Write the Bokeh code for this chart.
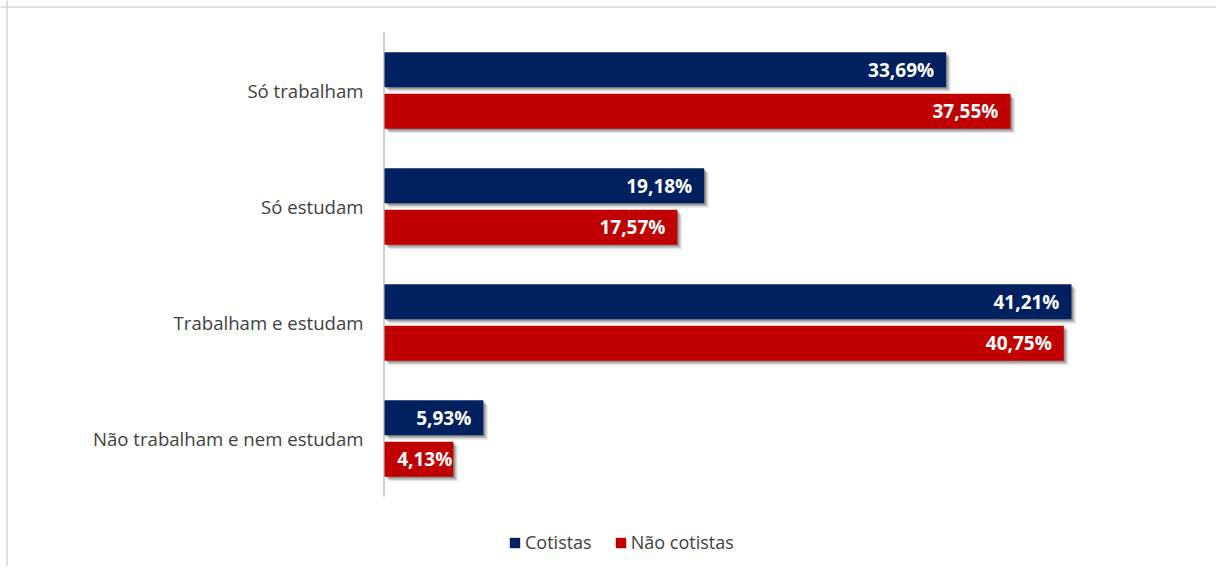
from bokeh.plotting import figure
from bokeh.models import Range1d, ColumnDataSource, Legend, LegendItem, Span
from bokeh.core.properties import value
from bokeh.embed import file_html
from bokeh.resources import INLINE

# ---- data ----
categories = ["Só trabalham", "Só estudam", "Trabalham e estudam", "Não trabalham e nem estudam"]
series_names = ["Cotistas", "Não cotistas"]
cotistas = [33.69, 19.18, 41.21, 5.93]
nao_cotistas = [37.55, 17.57, 40.75, 4.13]
series_colors = ["#002060", "#C00000"]

# ---- layout constants (pixels) ----
W, H = 1216, 566
PX_PER_PCT = 16.67      # horizontal scale
X0_PX = 384             # canvas pixel where 0% sits
GROUP_PX = 116          # vertical distance between categories
Y0_PX = 90              # canvas pixel of first category centre
BAR_PX = 35
OFFSET_PX = 20.75

dx = 1.0 / PX_PER_PCT
dy = 1.0 / GROUP_PX
x_start = -X0_PX * dx
x_end = (W - X0_PX) * dx
y_top = -Y0_PX * dy
y_bottom = (H - Y0_PX) * dy

p = figure(width=W, height=H, x_range=Range1d(x_start, x_end),
           y_range=Range1d(y_bottom, y_top), x_axis_type=None, y_axis_type=None,
           output_backend="svg", toolbar_location=None, min_border=0)
p.grid.visible = False
p.outline_line_color = None
p.background_fill_color = "white"
p.border_fill_color = "white"

# border (top & left)
p.add_layout(Span(location=x_start + 6.5 * dx, dimension="height", line_color="#d4d4d4", line_width=1.5))
p.add_layout(Span(location=y_top + 6.5 * dy, dimension="width", line_color="#d4d4d4", line_width=1.5))

# axis line
p.segment(x0=[-0.5 * dx], y0=[-0.5], x1=[-0.5 * dx], y1=[len(categories) - 0.5],
          line_color="#bfbfbf", line_width=1.5)

renderers = []
for si, (vals, color) in enumerate(zip([cotistas, nao_cotistas], series_colors)):
    off = (-OFFSET_PX if si == 0 else OFFSET_PX) * dy
    ys = [i + off for i in range(len(categories))]
    # shadows
    for sh, a in [(4.5, 0.10), (3, 0.18), (1.5, 0.22)]:
        p.hbar(y=[y + sh * dy for y in ys], left=sh * dx,
               right=[v + sh * dx for v in vals], height=BAR_PX * dy,
               fill_color="black", fill_alpha=a, line_color=None)
    r = p.hbar(y=ys, left=0, right=vals, height=BAR_PX * dy,
               fill_color=color, line_color=None)
    renderers.append(r)
    # labels
    labels = [f"{v:.2f}".replace(".", ",") + "%" for v in vals]
    xs = []
    for v in vals:
        wpx = v * PX_PER_PCT
        if wpx - 13 - 60 >= 6:
            xs.append(v - 12 * dx)
        else:
            xs.append(v - 1 * dx)
    src = ColumnDataSource(dict(x=xs, y=ys, t=labels))
    p.text(x="x", y="y", text="t", source=src, text_align="right", text_baseline="middle",
           text_color="white", text_font=value("Open Sans"), text_font_style="bold",
           text_font_size="19px")

# category labels
csrc = ColumnDataSource(dict(x=[-21 * dx] * len(categories),
                             y=list(range(len(categories))), t=categories))
p.text(x="x", y="y", text="t", source=csrc, text_align="right", text_baseline="middle",
       text_color="#404040", text_font=value("Open Sans"), text_font_size="18.6px")

legend = Legend(items=[LegendItem(label=n, renderers=[r]) for n, r in zip(series_names, renderers)],
                orientation="horizontal", location=(508, 12), glyph_width=13, glyph_height=13,
                label_standoff=4, spacing=22, padding=0, margin=0,
                border_line_color=None, background_fill_alpha=0,
                label_text_font="Open Sans", label_text_font_size="18px",
                label_text_color="#404040")
p.add_layout(legend, "center")

open("out.html", "w").write(file_html(p, INLINE))
